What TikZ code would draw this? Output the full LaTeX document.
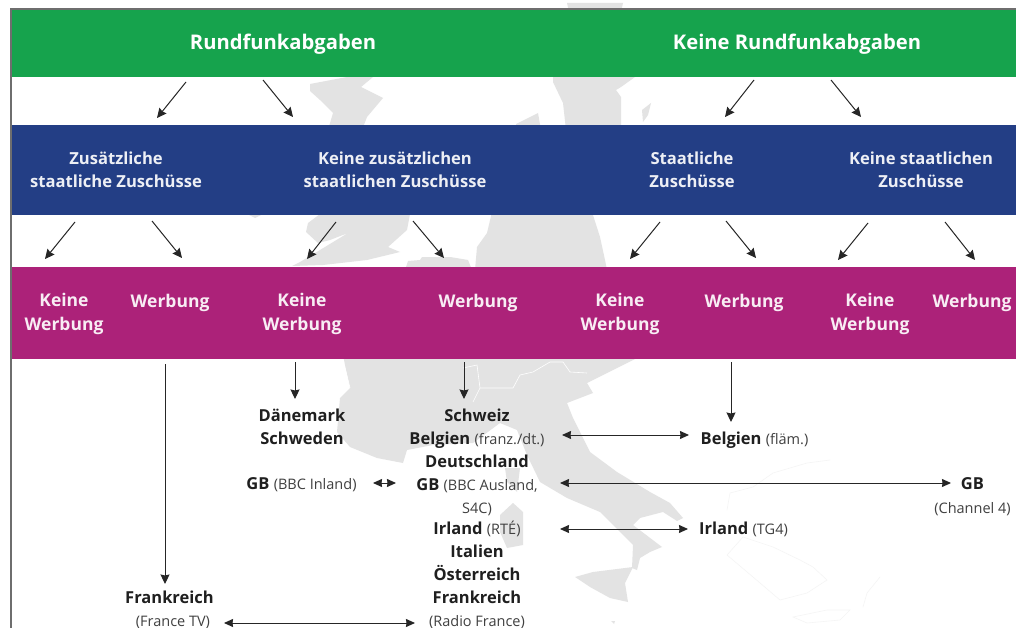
\documentclass[tikz,border=0pt]{standalone}
\usepackage{fontspec}
\setmainfont{Open Sans}
\usetikzlibrary{arrows.meta}
\definecolor{barblue}{RGB}{35,62,133}
\definecolor{bargreen}{RGB}{22,163,77}
\definecolor{barpurple}{RGB}{172,34,121}
\definecolor{mapgray}{RGB}{227,227,227}
\definecolor{mapline}{RGB}{245,245,245}
\definecolor{framegray}{RGB}{110,110,110}
\newcommand{\smalltxt}[1]{{\fontsize{14.5}{16}\selectfont\mdseries\color{black!75} #1}}
\tikzstyle{bar} = [rectangle, minimum width=1004pt, inner sep=0pt]
\tikzstyle{head} = [text=white, font=\fontsize{20.2}{22}\selectfont\bfseries, text height=16pt, text depth=0pt, inner sep=0pt]
\tikzstyle{sub} = [text=white!92!barblue, font=\fontsize{16.6}{23.5}\selectfont\bfseries, align=center, inner sep=0pt]
\tikzstyle{ad} = [text=white!92!barpurple, font=\fontsize{17.5}{23.5}\selectfont\bfseries, align=center, inner sep=0pt]
\tikzstyle{land} = [font=\fontsize{16.5}{18}\selectfont\bfseries, text=black!88, text height=11pt, text depth=0pt, inner sep=0pt, align=center]
\tikzstyle{note} = [font=\fontsize{14.5}{16}\selectfont, text=black!75, text height=11pt, text depth=0pt, inner sep=0pt, align=center]
\tikzstyle{arrow} = [line width=1pt, black!85, ->, >={Stealth[length=9.5pt, width=9pt, inset=1pt]}]
\tikzstyle{both} = [line width=1pt, black!85, <->, >={Stealth[length=9pt, width=8pt, inset=0.5pt]}]

\begin{document}
\begin{tikzpicture}
[x=1pt, y=-1pt, node distance=23pt]

\useasboundingbox (0,0) rectangle (1016,628);
\fill [white] (0,0) rectangle (1016,628);

\fill [mapgray] (567,3) -- (623,3) -- (621,12) -- (569,12) -- cycle;
\fill [mapgray] (310,84) -- (347,77) -- (373,77) -- (361,87) -- (383,98) -- (367,117) -- (362,130) -- (328,130) -- (333,113) -- (320,100) -- (310,91) -- cycle;
\fill [mapgray] (553,77) -- (635,77) -- (621,87) -- (616,90) -- (621,97) -- (621,130) -- (566,130) -- (563,103) -- (553,82) -- cycle;
\fill [mapgray] (516,124) -- (538,113) -- (541,130) -- (516,130) -- cycle;
\fill [mapgray] (643,122) -- (642,110) -- (651,103) -- (648,115) -- cycle;
\fill [mapgray] (247,214) -- (263,214) -- (255,218) -- cycle;
\fill [mapgray] (308,223) -- (320,214) -- (410,214) -- (407,230) -- (388,247) -- (400,252) -- (367,260) -- (323,265) -- (292,266) -- (300,262) -- (320,250) -- (348,233) -- (330,240) -- (318,243) -- (306,232) -- cycle;
\fill [mapgray] (405,270) -- (408,261) -- (420,260) -- (422,257) -- (450,257) -- (468,260) -- (472,270) -- cycle;
\fill [mapgray] (492,212) -- (592,212) -- (600,237) -- (605,260) -- (607,270) -- (475,270) -- (477,247) -- (487,233) -- cycle;
\fill [mapgray] (343,355) -- (345,365) -- (350,388) -- (340,398) -- (337,432) -- (350,447) -- (377,458) -- (403,463) -- (407,450) -- (433,445) -- (473,443) -- (500,423) -- (517,430) -- (527,455) -- (540,482) -- (567,498) -- (600,512) -- (623,535) -- (633,545) -- (632,568) -- (637,570) -- (640,558) -- (650,552) -- (662,547) -- (633,525) -- (640,518) -- (663,512) -- (677,521) -- (683,518) -- (670,503) -- (650,492) -- (617,472) -- (590,452) -- (573,418) -- (567,403) -- (593,393) -- (587,383) -- (635,359) -- (640,355) -- cycle;
\fill [mapgray] (505,468) -- (520,468) -- (517,492) -- (507,482) -- cycle;
\fill [mapgray] (500,515) -- (513,503) -- (523,512) -- (523,545) -- (507,548) -- (500,532) -- cycle;
\fill [mapgray] (575,577) -- (593,572) -- (633,567) -- (625,583) -- (628,602) -- (610,598) -- (590,587) -- cycle;
\fill [mapgray] (611,621) -- (615,621) -- (614,624) -- cycle;
\draw [white, line width=0.6pt] (463,368) -- (477,365) -- (480,388) -- (473,402);
\draw [white, line width=0.6pt] (480,388) -- (513,388) -- (520,375) -- (533,372) -- (550,362) -- (563,362) -- (570,372) -- (587,373);
\draw [white, line width=0.6pt] (345,368) -- (350,388);
\draw [mapline, line width=0.6pt] (830,460) -- (807,463) -- (773,473) -- (753,487) -- (730,493) -- (727,510);
\draw [mapline, line width=0.6pt] (727,555) -- (743,537) -- (773,547) -- (800,560) -- (813,567) -- (827,580) -- (807,593) -- (780,600) -- (753,577) -- cycle;
\draw [mapline, line width=0.6pt] (793,617) -- (827,610) -- (850,610) -- (840,620) -- (807,623) -- cycle;
\draw [mapline, line width=0.6pt] (880,577) -- (867,593) -- (863,607);

\node (greenbar) [bar, fill=bargreen, minimum height=67pt] at (514,43.5) {};
\node (bluebar) [bar, fill=barblue, minimum height=89.5pt] at (514,170.25) {};
\node (purplebar) [bar, fill=barpurple, minimum height=91.5pt] at (514,312.75) {};
\draw [framegray, line width=1.2pt] (11,628) -- (11,9) -- (1016,9);

\node (rund) [head] at (283,42) {Rundfunkabgaben};
\node (krund) [head, right of = rund, node distance=514pt] {Keine Rundfunkabgaben};

\node (zus) [sub] at (116,170) {Zusätzliche\\staatliche Zuschüsse};
\node (kzus) [sub, right of = zus, node distance=279pt] {Keine zusätzlichen\\staatlichen Zuschüsse};
\node (staat) [sub, right of = kzus, node distance=297pt] {Staatliche\\Zuschüsse};
\node (kstaat) [sub, right of = staat, node distance=229pt] {Keine staatlichen\\Zuschüsse};

\node (kw1) [ad] at (64,314) {Keine\\Werbung};
\node (w1) [ad] at (170,302.5) {Werbung};
\node (kw2) [ad] at (302,314) {Keine\\Werbung};
\node (w2) [ad] at (478,302.5) {Werbung};
\node (kw3) [ad] at (620,314) {Keine\\Werbung};
\node (w3) [ad] at (744,302.5) {Werbung};
\node (kw4) [ad] at (870,314) {Keine\\Werbung};
\node (w4) [ad] at (972,302.5) {Werbung};

\node (daen) [land] at (302,416) {Dänemark};
\node (schwed) [land, below of = daen] {Schweden};
\node (gbin) [land] at (301.5,484) {GB \smalltxt{(BBC Inland)}};

\node (schweiz) [land] at (477,416) {Schweiz};
\node (belgfr) [land, below of = schweiz] {Belgien \smalltxt{(franz./dt.)}};
\node (deutsch) [land, below of = belgfr] {Deutschland};
\node (gbaus) [land, below of = deutsch] {GB \smalltxt{(BBC Ausland,}};
\node (sfourc) [note, below of = gbaus] {S4C)};
\node (irl) [land, below of = sfourc, node distance=21pt] {Irland \smalltxt{(RTÉ)}};
\node (ital) [land, below of = irl] {Italien};
\node (oest) [land, below of = ital] {Österreich};
\node (frradio) [land, below of = oest] {Frankreich};
\node (radio) [note, below of = frradio] {(Radio France)};

\node (frtv) [land] at (169.5,598) {Frankreich};
\node (ftv) [note] at (173,621) {(France TV)};
\node (belgfl) [land] at (754.5,439) {Belgien \smalltxt{(fläm.)}};
\node (gbch) [land] at (972.5,484) {GB};
\node (chfour) [note] at (972.5,508) {(Channel 4)};
\node (irltg) [land] at (743.5,529) {Irland \smalltxt{(TG4)}};

\draw [arrow] ([shift={(-97,40)}]rund.center) -- ([shift={(41,-52)}]zus.center);
\draw [arrow] ([shift={(-20,38)}]rund.center) -- ([shift={(-102,-53)}]kzus.center);
\draw [arrow] ([shift={(-43,38)}]krund.center) -- ([shift={(33,-53)}]staat.center);
\draw [arrow] ([shift={(34,38)}]krund.center) -- ([shift={(-60,-53)}]kstaat.center);

\draw [arrow] ([shift={(-41,52)}]zus.center) -- ([shift={(-19,-55)}]kw1.center);
\draw [arrow] ([shift={(36,51)}]zus.center) -- ([shift={(12,-44.5)}]w1.center);
\draw [arrow] ([shift={(-59,52)}]kzus.center) -- ([shift={(5,-55)}]kw2.center);
\draw [arrow] ([shift={(18,51)}]kzus.center) -- ([shift={(-34,-44.5)}]w2.center);
\draw [arrow] ([shift={(-32,52)}]staat.center) -- ([shift={(10,-55)}]kw3.center);
\draw [arrow] ([shift={(34,51)}]staat.center) -- ([shift={(12,-44.5)}]w3.center);
\draw [arrow] ([shift={(-53,53)}]kstaat.center) -- ([shift={(-32,-54)}]kw4.center);
\draw [arrow] ([shift={(24,52)}]kstaat.center) -- ([shift={(3,-42.5)}]w4.center);

\draw [arrow] ([shift={(-5,61.5)}]w1.center) -- ([shift={(-4.5,-14)}]frtv.center);
\draw [arrow] ([shift={(-7,48)}]kw2.center) -- ([shift={(-7,-17)}]daen.center);
\draw [arrow] ([shift={(-14,59.5)}]w2.center) -- ([shift={(-13,-17)}]schweiz.center);
\draw [arrow] ([shift={(-13,59.5)}]w3.center) -- ([shift={(-23.5,-17)}]belgfl.center);

\draw [both] ([shift={(85,-4)}]belgfr.center) -- ([shift={(-65.5,-4)}]belgfl.center);
\draw [both] ([shift={(83,-2)}]gbaus.center) -- ([shift={(-21.5,-1)}]gbch.center);
\draw [both] ([shift={(83,0)}]irl.center) -- ([shift={(-55.5,0)}]irltg.center);
\draw [both] ([shift={(71.5,-1)}]gbin.center) -- ([shift={(-81,-2)}]gbaus.center);
\draw [both] ([shift={(51,2)}]ftv.center) -- ([shift={(-62,2)}]radio.center);

\end{tikzpicture}
\end{document}
